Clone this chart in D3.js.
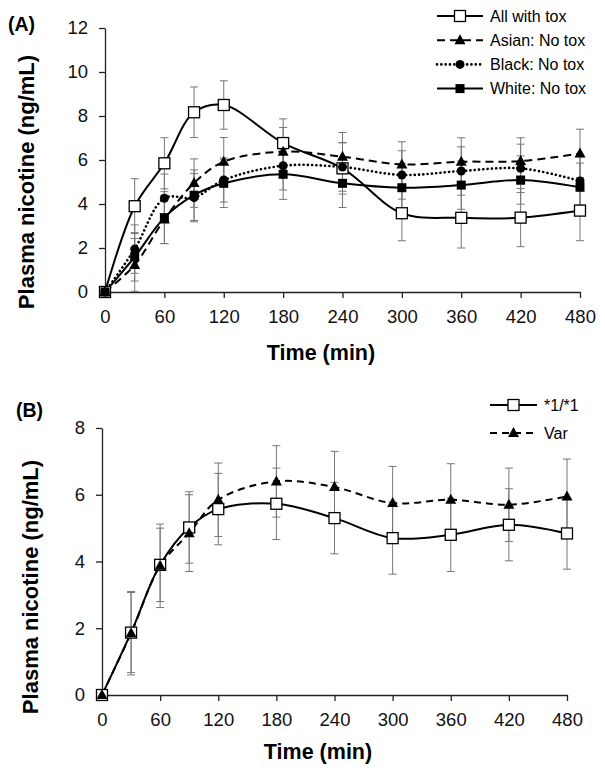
<!DOCTYPE html>
<html><head><meta charset="utf-8">
<script src="https://cdn.jsdelivr.net/npm/d3@7"></script>
<style>body{margin:0;background:#fff}svg{display:block}text{font-family:"Liberation Sans",Arial,sans-serif}</style>
</head><body>
<svg id="c" width="605" height="777"></svg>
<script>
const times = [0,30,60,90,120,180,240,300,360,420,480];
const xTicks = [0,60,120,180,240,300,360,420,480];

// Panel A
const allTox   = [0,3.9,5.85,8.17,8.5,6.77,5.62,3.58,3.37,3.38,3.7];
const allToxSd = [0,1.25,1.16,1.15,1.1,1.1,1.17,1.25,1.37,1.32,1.37];
const asian    = [0,1.23,3.3,4.95,5.92,6.38,6.15,5.8,5.92,5.95,6.3];
const asianSd  = [0,1.2,1.1,1.1,1.1,1.1,1.1,1.03,1.09,1.06,1.1];
const black    = [0,1.95,4.26,4.29,5.09,5.74,5.68,5.32,5.5,5.62,5.05];
const blackSd  = [0,1.1,1.1,1.1,1.0,1.1,1.1,1.1,1.1,1.1,1.1];
const white    = [0,1.6,3.38,4.4,4.94,5.35,4.94,4.74,4.86,5.09,4.76];
const whiteSd  = [0,1.1,1.18,1.15,1.1,1.14,1.1,1.1,1.1,1.1,1.1];
const yTicksA = [0,2,4,6,8,10,12];

// Panel B
const wt     = [0,1.87,3.9,5.02,5.57,5.73,5.3,4.7,4.8,5.1,4.84];
const wtSd   = [0,1.2,1.1,1.07,1.07,1.07,1.07,1.08,1.1,1.08,1.07];
const varG   = [0,1.85,3.87,4.85,5.85,6.4,6.23,5.75,5.85,5.7,5.95];
const varSd  = [0,1.25,1.25,1.15,1.1,1.07,1.07,1.1,1.08,1.1,1.12];
const yTicksB = [0,2,4,6,8];

const svg = d3.select("#c");

function drawMarker(g, type, x, y){
  if(type==="openSquare"){
    g.append("rect").attr("x",x-5.5).attr("y",y-5.5).attr("width",11).attr("height",11)
      .attr("fill","#fff").attr("stroke","#000").attr("stroke-width",1.3);
  } else if(type==="square"){
    g.append("rect").attr("x",x-4.5).attr("y",y-4.5).attr("width",9).attr("height",9).attr("fill","#000");
  } else if(type==="triangle"){
    g.append("path").attr("d",`M${x},${y-6}L${x+5.5},${y+4}L${x-5.5},${y+4}Z`).attr("fill","#000");
  } else if(type==="circle"){
    g.append("circle").attr("cx",x).attr("cy",y).attr("r",4.5).attr("fill","#000");
  }
}

function panel(opt){
  const x = d3.scaleLinear().domain([0,480]).range([opt.x0,opt.x1]);
  const y = d3.scaleLinear().domain([0,opt.yMax]).range([opt.y0,opt.y1]);
  const g = svg.append("g");
  // axes
  g.append("g").attr("transform",`translate(0,${opt.y0})`)
    .call(d3.axisBottom(x).tickValues(xTicks).tickSize(6).tickSizeOuter(0).tickPadding(12))
    .call(a=>{a.select(".domain").attr("stroke","#222").attr("stroke-width",1.3);
      a.selectAll(".tick line").attr("stroke","#222").attr("stroke-width",1.3);
      a.selectAll("text").attr("font-size",18.5).attr("fill","#111");});
  g.append("g").attr("transform",`translate(${opt.x0},0)`)
    .call(d3.axisLeft(y).tickValues(opt.yTicks).tickSize(6).tickSizeOuter(0).tickPadding(11))
    .call(a=>{a.select(".domain").attr("stroke","#222").attr("stroke-width",1.3);
      a.selectAll(".tick line").attr("stroke","#222").attr("stroke-width",1.3);
      a.selectAll("text").attr("font-size",18.5).attr("fill","#111");});
  // error bars
  opt.series.forEach(s=>{
    const eg = g.append("g").attr("stroke","#777").attr("stroke-width",1);
    times.forEach((t,i)=>{
      if(!s.sd[i]) return;
      const xx=x(t), hi=y(s.vals[i]+s.sd[i]), lo=y(Math.max(0,s.vals[i]-s.sd[i]));
      eg.append("line").attr("x1",xx).attr("x2",xx).attr("y1",hi).attr("y2",lo);
      eg.append("line").attr("x1",xx-4).attr("x2",xx+4).attr("y1",hi).attr("y2",hi);
      eg.append("line").attr("x1",xx-4).attr("x2",xx+4).attr("y1",lo).attr("y2",lo);
    });
  });
  // lines
  const line = d3.line().x((d,i)=>x(times[i])).y(d=>y(d)).curve(d3.curveCatmullRom.alpha(0.5));
  opt.series.forEach(s=>{
    g.append("path").attr("d",line(s.vals)).attr("fill","none").attr("stroke","#000")
      .attr("stroke-width",s.w||2).attr("stroke-dasharray",s.dash).attr("stroke-linecap",s.cap||"butt");
  });
  opt.series.forEach(s=>{
    const mg = g.append("g");
    s.vals.forEach((v,i)=>drawMarker(mg,s.marker,x(times[i]),y(v)));
  });
  // legend
  const lg = g.append("g");
  opt.series.forEach((s,i)=>{
    const ly = opt.legY + i*opt.legDy;
    lg.append("line").attr("x1",opt.legX).attr("x2",opt.legX+opt.legW).attr("y1",ly).attr("y2",ly)
      .attr("stroke","#000").attr("stroke-width",s.w||2).attr("stroke-dasharray",s.dash).attr("stroke-linecap",s.cap||"butt");
    drawMarker(lg,s.marker,opt.legX+opt.legW/2,ly);
    lg.append("text").attr("x",opt.legX+opt.legW+7).attr("y",ly).attr("dy","0.35em")
      .attr("font-size",16).text(s.name);
  });
  // labels
  g.append("text").attr("x",opt.labX).attr("y",opt.labY).attr("font-size",19.5).attr("font-weight","bold").text(opt.label);
  g.append("text").attr("transform",`translate(${opt.yLabX},${opt.yLabY}) rotate(-90)`)
    .attr("text-anchor","middle").attr("font-size",22).attr("font-weight","bold").text("Plasma nicotine (ng/mL)");
  g.append("text").attr("x",opt.xLabX).attr("y",opt.xLabY).attr("text-anchor","middle")
    .attr("font-size",21.5).attr("font-weight","bold").text("Time (min)");
}

panel({x0:105,x1:580,y0:292,y1:28,yMax:12,yTicks:yTicksA,
  label:"(A)",labX:8,labY:31,yLabX:34,yLabY:182,xLabX:321,xLabY:360,
  legX:437,legW:46,legY:16,legDy:24.2,
  series:[
    {name:"All with tox",vals:allTox,sd:allToxSd,marker:"openSquare",dash:null},
    {name:"Asian: No tox",vals:asian,sd:asianSd,marker:"triangle",dash:"8,5"},
    {name:"Black: No tox",vals:black,sd:blackSd,marker:"circle",dash:"0.1,4.2",cap:"round",w:2.6},
    {name:"White: No tox",vals:white,sd:whiteSd,marker:"square",dash:null}
  ]});

panel({x0:102,x1:567,y0:695,y1:428,yMax:8,yTicks:yTicksB,
  label:"(B)",labX:16,labY:417,yLabX:38,yLabY:587,xLabX:318,xLabY:759,
  legX:490,legW:47,legY:405,legDy:28,
  series:[
    {name:"*1/*1",vals:wt,sd:wtSd,marker:"openSquare",dash:null},
    {name:"Var",vals:varG,sd:varSd,marker:"triangle",dash:"7,5"}
  ]});
</script>
</body></html>
